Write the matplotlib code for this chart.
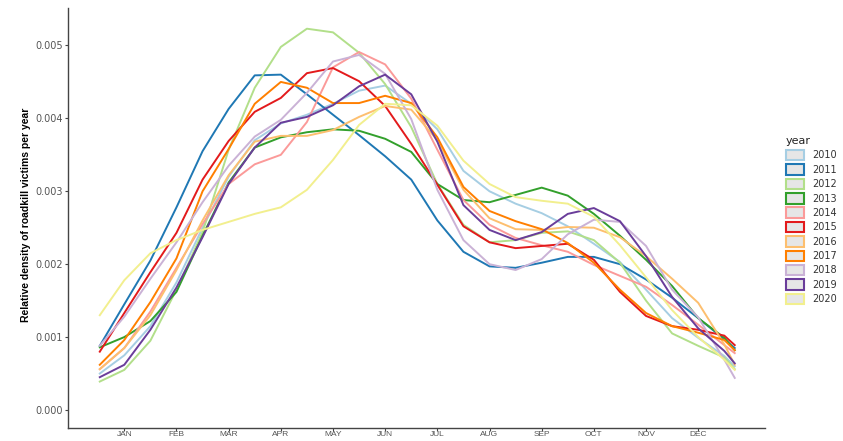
import matplotlib
matplotlib.use("Agg")
import matplotlib.pyplot as plt
from matplotlib.patches import Patch

# ---- data (density values in units of 1e-3) ----
years = ["2010", "2011", "2012", "2013", "2014", "2015",
         "2016", "2017", "2018", "2019", "2020"]
colors = ["#A6CEE3", "#1F78B4", "#B2DF8A", "#33A02C", "#FB9A99", "#E31A1C",
          "#FDBF6F", "#FF7F00", "#CAB2D6", "#6A3D9A", "#F2EF8E"]
month_labels = ["JAN", "FEB", "MAR", "APR", "MAY", "JUN",
                "JUL", "AUG", "SEP", "OCT", "NOV", "DEC"]
month_ticks = [1, 2, 3, 4, 5, 6, 7, 8, 9, 10, 11, 12]
y_ticks = [0.000, 0.001, 0.002, 0.003, 0.004, 0.005]
y_tick_labels = ["0.000", "0.001", "0.002", "0.003", "0.004", "0.005"]

x_pos = [0.53, 1.0, 1.5, 2.0, 2.5, 3.0, 3.5, 4.0, 4.5, 5.0, 5.5, 6.0, 6.5,
         7.0, 7.5, 8.0, 8.5, 9.0, 9.5, 10.0, 10.5, 11.0, 11.5, 12.0, 12.5, 12.7]

y2010 = [0.50, 0.75, 1.15, 1.75, 2.50, 3.20, 3.70, 3.93, 4.05, 4.20, 4.38, 4.45, 4.20,
         3.85, 3.28, 3.00, 2.83, 2.70, 2.52, 2.28, 2.03, 1.65, 1.26, 0.99, 0.74, 0.60]
y2011 = [0.88, 1.45, 2.05, 2.78, 3.55, 4.13, 4.59, 4.60, 4.33, 4.05, 3.77, 3.48, 3.16,
         2.60, 2.17, 1.97, 1.95, 2.02, 2.10, 2.10, 2.00, 1.79, 1.54, 1.26, 0.97, 0.85]
y2012 = [0.39, 0.55, 0.95, 1.65, 2.44, 3.57, 4.42, 4.98, 5.23, 5.18, 4.90, 4.47, 3.88,
         3.10, 2.54, 2.30, 2.33, 2.43, 2.45, 2.33, 2.02, 1.50, 1.05, 0.88, 0.72, 0.56]
y2013 = [0.86, 1.00, 1.22, 1.62, 2.39, 3.12, 3.60, 3.74, 3.81, 3.85, 3.83, 3.72, 3.54,
         3.10, 2.88, 2.85, 2.95, 3.05, 2.94, 2.69, 2.39, 2.06, 1.70, 1.26, 0.99, 0.82]
y2014 = [0.56, 0.85, 1.35, 1.95, 2.55, 3.10, 3.37, 3.50, 3.95, 4.70, 4.91, 4.74, 4.27,
         3.57, 2.88, 2.54, 2.36, 2.26, 2.17, 1.99, 1.84, 1.69, 1.44, 1.17, 0.89, 0.78]
y2015 = [0.80, 1.33, 1.89, 2.43, 3.16, 3.69, 4.09, 4.28, 4.62, 4.69, 4.51, 4.17, 3.65,
         3.09, 2.52, 2.30, 2.22, 2.25, 2.28, 2.06, 1.62, 1.29, 1.15, 1.10, 1.02, 0.89]
y2016 = [0.56, 0.85, 1.30, 1.92, 2.60, 3.22, 3.68, 3.76, 3.76, 3.84, 4.02, 4.17, 4.12,
         3.70, 3.02, 2.63, 2.48, 2.47, 2.51, 2.50, 2.37, 2.11, 1.80, 1.47, 0.90, 0.62]
y2017 = [0.62, 0.96, 1.48, 2.08, 3.00, 3.58, 4.20, 4.50, 4.42, 4.21, 4.21, 4.31, 4.21,
         3.74, 3.06, 2.73, 2.59, 2.48, 2.29, 2.02, 1.65, 1.33, 1.15, 1.06, 0.96, 0.82]
y2018 = [0.88, 1.28, 1.80, 2.30, 2.85, 3.35, 3.75, 3.98, 4.35, 4.78, 4.87, 4.61, 3.99,
         3.02, 2.33, 2.00, 1.92, 2.07, 2.41, 2.61, 2.58, 2.25, 1.65, 1.27, 0.69, 0.44]
y2019 = [0.45, 0.62, 1.10, 1.68, 2.37, 3.10, 3.60, 3.94, 4.02, 4.18, 4.44, 4.60, 4.33,
         3.68, 2.81, 2.47, 2.33, 2.44, 2.69, 2.77, 2.59, 2.11, 1.55, 1.12, 0.81, 0.64]
y2020 = [1.30, 1.78, 2.15, 2.33, 2.47, 2.58, 2.69, 2.78, 3.02, 3.43, 3.91, 4.20, 4.18,
         3.90, 3.42, 3.10, 2.92, 2.87, 2.83, 2.65, 2.26, 1.82, 1.37, 1.00, 0.69, 0.55]

series = [y2010, y2011, y2012, y2013, y2014, y2015,
          y2016, y2017, y2018, y2019, y2020]

# ---- figure ----
W, H = 843, 441
fig = plt.figure(figsize=(W / 100, H / 100), dpi=100)
fig.patch.set_facecolor("white")
ax_bottom, ax_top = 428, 8
ax = fig.add_axes([68 / W, 1 - ax_bottom / H, (765 - 68) / W, (ax_bottom - ax_top) / H])

for yr, col, vals in zip(years, colors, series):
    ax.plot(x_pos, [v * 1e-3 for v in vals], color=col, lw=1.4,
            solid_joinstyle="round", label=yr)

ax.set_xlim(-0.079, 13.28)
ax.set_ylim(-0.000247, 0.005514)
ax.set_xticks(month_ticks)
ax.set_xticklabels(month_labels, family=["Liberation Sans", "DejaVu Sans"], fontsize=6)
ax.set_yticks(y_ticks)
ax.set_yticklabels(y_tick_labels, fontsize=7)

for s in ["top", "right"]:
    ax.spines[s].set_visible(False)
for s in ["left", "bottom"]:
    ax.spines[s].set_color("#444444")
    ax.spines[s].set_linewidth(1.0)

ax.tick_params(axis="both", length=2.2, width=0.8, color="#444444",
               labelcolor="#555555")
ax.tick_params(axis="x", pad=0.2)
ax.tick_params(axis="y", pad=1.5)

ax.set_ylabel("Relative density of roadkill victims per year",
              family=["Liberation Sans Narrow", "Liberation Sans", "DejaVu Sans"],
              fontweight="bold", fontsize=7.5, color="black")
ax.yaxis.set_label_coords(-0.0524, (ax_bottom - 215) / (ax_bottom - ax_top))

handles = [Patch(facecolor="#E6E6E6", edgecolor=c, linewidth=1.5, label=y)
           for y, c in zip(years, colors)]
leg = fig.legend(handles=handles, loc="upper left",
                 bbox_to_anchor=(786 / W, 1 - 136 / H), frameon=False,
                 title="year", alignment="left", fontsize=7, title_fontsize=8,
                 handlelength=1.9, handleheight=1.3, labelspacing=0.39,
                 handletextpad=0.75, borderpad=0, borderaxespad=0)
for t in leg.get_texts():
    t.set_color("#333333")
leg.get_title().set_color("#222222")

fig.savefig("out.png", dpi=100, facecolor="white")
